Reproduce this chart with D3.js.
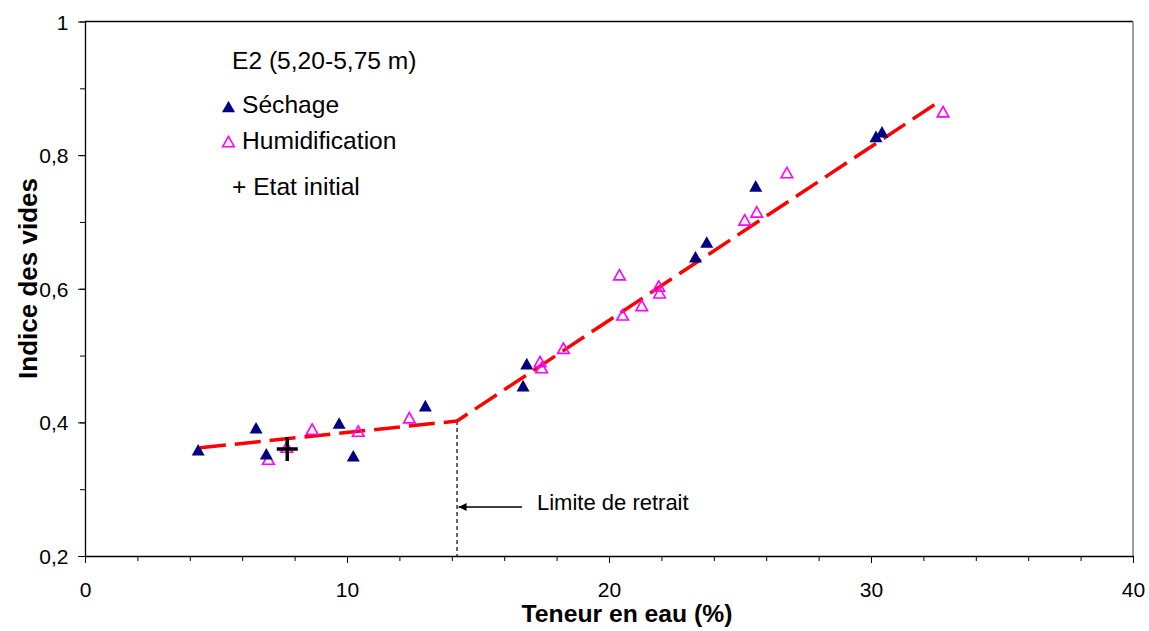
<!DOCTYPE html>
<html><head><meta charset="utf-8">
<script src="https://cdn.jsdelivr.net/npm/d3@7"></script>
<style>
html,body{margin:0;padding:0;background:#fff;}
svg{display:block;font-family:"Liberation Sans",Arial,sans-serif;}
</style></head>
<body>
<svg id="chart" width="1149" height="631"></svg>
<script>
// ---- data ----
const sechageX = [4.32, 6.53, 6.92, 9.70, 10.24, 12.99, 16.72, 16.86, 23.30, 23.73, 25.60, 30.19, 30.42];
const sechageY = [0.359, 0.392, 0.353, 0.399, 0.350, 0.425, 0.455, 0.488, 0.648, 0.670, 0.754, 0.828, 0.835];
const humidX = [7.00, 7.70, 8.67, 10.43, 12.38, 17.37, 17.43, 18.26, 20.40, 20.52, 21.25, 21.90, 21.93, 25.18, 25.64, 26.79, 32.75];
const humidY = [0.345, 0.363, 0.390, 0.387, 0.407, 0.491, 0.482, 0.511, 0.621, 0.561, 0.575, 0.604, 0.594, 0.703, 0.715, 0.774, 0.865];
const initialX = [7.72];
const initialY = [0.360];
const fitX = [4.39, 14.2, 32.52];
const fitY = [0.362, 0.402, 0.878];
const limiteX = 14.2;
const xMajorTicks = [0, 10, 20, 30, 40];
const xMinorTicks = d3.range(0, 41, 2);
const yMajorTicks = [0.2, 0.4, 0.6, 0.8, 1];
const yMinorTicks = [0.2, 0.3, 0.4, 0.5, 0.6, 0.7, 0.8, 0.9, 1];
const legendTitle = "E2 (5,20-5,75 m)";
const seriesNames = ["Séchage", "Humidification", "Etat initial"];
const xTitle = "Teneur en eau (%)";
const yTitle = "Indice des vides";
const annotation = "Limite de retrait";

// ---- layout ----
const L = 85, R = 1133, T = 21.5, B = 556;
const svg = d3.select("#chart");
const x = d3.scaleLinear().domain([0, 40]).range([L, R]);
const y = d3.scaleLinear().domain([0.2, 1]).range([B, T]);
const fmt = d => String(d).replace(".", ",");
const NAVY = "#000080", MAG = "#FF00FF", RED = "#FF0000";

// frame: top black, right gray
svg.append("line").attr("x1", L).attr("x2", R).attr("y1", T).attr("y2", T)
  .attr("stroke", "#000").attr("stroke-width", 1.3);
svg.append("line").attr("x1", R).attr("x2", R).attr("y1", T).attr("y2", B)
  .attr("stroke", "#808080").attr("stroke-width", 1.5);

// x axis minor
svg.append("g").attr("transform", `translate(0,${B})`)
  .call(d3.axisBottom(x).tickValues(xMinorTicks).tickSize(5).tickSizeOuter(0).tickFormat(""))
  .call(g => g.selectAll("line").attr("stroke", "#000").attr("stroke-width", 1))
  .call(g => g.select(".domain").attr("stroke", "#000").attr("stroke-width", 1.3));
// x axis major
svg.append("g").attr("transform", `translate(0,${B})`)
  .call(d3.axisBottom(x).tickValues(xMajorTicks).tickSize(7).tickSizeOuter(0).tickFormat(fmt))
  .call(g => g.select(".domain").remove())
  .call(g => g.selectAll("line").attr("stroke", "#000").attr("stroke-width", 1))
  .call(g => g.selectAll("text").attr("y", 40.5).attr("dy", 0)
    .attr("font-size", 21).attr("fill", "#000").attr("font-family", "Liberation Sans, Arial, sans-serif"));

// y axis minor
svg.append("g").attr("transform", `translate(${L},0)`)
  .call(d3.axisLeft(y).tickValues(yMinorTicks).tickSize(5).tickSizeOuter(0).tickFormat(""))
  .call(g => g.selectAll("line").attr("stroke", "#000").attr("stroke-width", 1))
  .call(g => g.select(".domain").attr("stroke", "#000").attr("stroke-width", 1.3));
// y axis major
svg.append("g").attr("transform", `translate(${L},0)`)
  .call(d3.axisLeft(y).tickValues(yMajorTicks).tickSize(7).tickSizeOuter(0).tickFormat(fmt))
  .call(g => g.select(".domain").remove())
  .call(g => g.selectAll("line").attr("stroke", "#000").attr("stroke-width", 1))
  .call(g => g.selectAll("text").attr("x", -16.5).attr("dy", "0.36em")
    .attr("font-size", 21).attr("fill", "#000").attr("font-family", "Liberation Sans, Arial, sans-serif"));

// axis titles
svg.append("text").attr("x", 627).attr("y", 622).attr("text-anchor", "middle")
  .attr("font-size", 24.7).attr("font-weight", "bold").text(xTitle);
svg.append("text").attr("transform", `translate(37,${278.5}) rotate(-90)`).attr("text-anchor", "middle")
  .attr("font-size", 26).attr("font-weight", "bold").text(yTitle);

// limite de retrait dashed vertical
svg.append("line").attr("x1", x(limiteX)).attr("x2", x(limiteX))
  .attr("y1", y(fitY[1])).attr("y2", B)
  .attr("stroke", "#000").attr("stroke-width", 1.2).attr("stroke-dasharray", "4,3");

// arrow + annotation
svg.append("defs").append("marker").attr("id", "ah").attr("viewBox", "0 0 10 10")
  .attr("refX", 10).attr("refY", 5).attr("markerWidth", 11).attr("markerHeight", 8)
  .attr("markerUnits", "userSpaceOnUse").attr("orient", "auto")
  .append("path").attr("d", "M0,0 L10,5 L0,10 Z").attr("fill", "#000");
const arrowY = 507;
svg.append("line").attr("x1", 522).attr("x2", x(limiteX) + 1.5).attr("y1", arrowY).attr("y2", arrowY)
  .attr("stroke", "#000").attr("stroke-width", 1.4).attr("marker-end", "url(#ah)");
svg.append("text").attr("x", 537).attr("y", 509.5).attr("font-size", 22).text(annotation);

// fitted line
const fitData = fitX.map((v, i) => [v, fitY[i]]);
svg.append("path").datum(fitData)
  .attr("d", d3.line().x(d => x(d[0])).y(d => y(d[1])))
  .attr("fill", "none").attr("stroke", RED).attr("stroke-width", 3.5)
  .attr("stroke-dasharray", "26,9");

// triangle shape (bbox-centred)
const tri = "M0,-5.8L6.5,5.8L-6.5,5.8Z";
const triO = "M0,-5.2L5.8,5.2L-5.8,5.2Z";

// humidification
svg.append("g").selectAll("path").data(humidX.map((v, i) => [v, humidY[i]])).join("path")
  .attr("transform", d => `translate(${x(d[0])},${y(d[1])})`)
  .attr("d", triO).attr("fill", "none").attr("stroke", MAG).attr("stroke-width", 1.6);
// séchage
svg.append("g").selectAll("path").data(sechageX.map((v, i) => [v, sechageY[i]])).join("path")
  .attr("transform", d => `translate(${x(d[0])},${y(d[1])})`)
  .attr("d", tri).attr("fill", NAVY);
// état initial
svg.append("g").selectAll("path").data(initialX.map((v, i) => [v, initialY[i]])).join("path")
  .attr("transform", d => `translate(${x(d[0])},${y(d[1])})`)
  .attr("d", "M-10.5,0H10.5M0,-12V12").attr("stroke", "#000").attr("stroke-width", 3.5).attr("fill", "none");

// legend
svg.append("text").attr("x", 232).attr("y", 69).attr("font-size", 24.6).text(legendTitle);
svg.append("path").attr("transform", "translate(228.5,106.5)").attr("d", tri).attr("fill", NAVY);
svg.append("text").attr("x", 242).attr("y", 113).attr("font-size", 24.6).text(seriesNames[0]);
svg.append("path").attr("transform", "translate(228.5,141.5)").attr("d", triO)
  .attr("fill", "none").attr("stroke", MAG).attr("stroke-width", 1.6);
svg.append("text").attr("x", 242).attr("y", 148.5).attr("font-size", 24.6).text(seriesNames[1]);
svg.append("text").attr("x", 232).attr("y", 195).attr("font-size", 24.6).text("+ " + seriesNames[2]);
</script>
</body></html>
